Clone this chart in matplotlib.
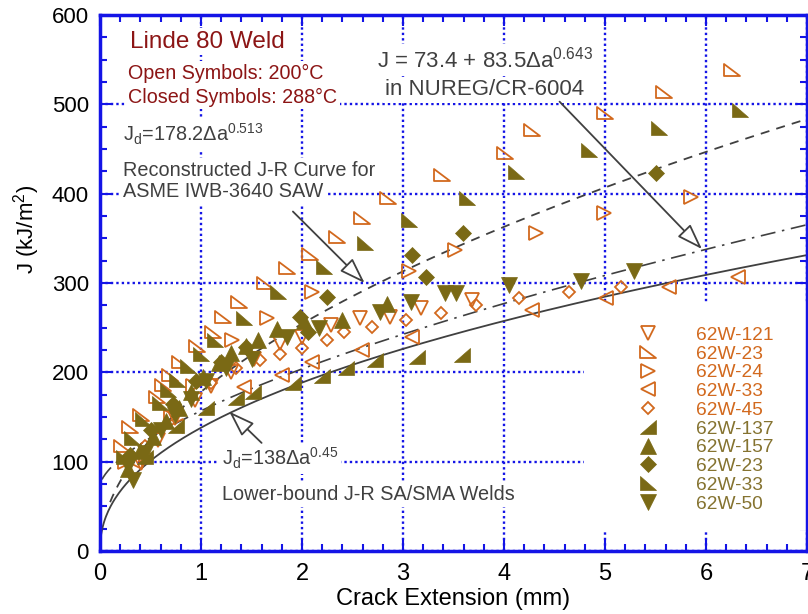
import matplotlib
matplotlib.use('Agg')
from matplotlib import pyplot as plt
from matplotlib.path import Path
from matplotlib.patches import Rectangle
from matplotlib.ticker import MultipleLocator
import numpy as np

plt.rcParams['font.family'] = ['Liberation Sans', 'DejaVu Sans']
plt.rcParams['mathtext.fontset'] = 'custom'
plt.rcParams['mathtext.rm'] = 'Liberation Sans'

# ---- data (crack extension mm, J kJ/m^2) ----
# open symbols, 200 C
o121_x = [0.41, 0.57, 0.74, 0.94, 1.10, 1.30, 1.52, 1.78, 2.00, 2.29, 2.57, 2.87, 3.18, 3.68]
o121_y = [98, 124, 149, 169, 185, 200, 215, 233, 240, 253, 261, 262, 272, 281]
o23_x = [0.22, 0.30, 0.41, 0.56, 0.62, 0.69, 0.79, 0.96, 1.12, 1.22, 1.38, 1.63, 1.85, 2.08,
         2.35, 2.59, 2.85, 3.39, 4.01, 4.28, 5.00, 5.58, 6.26]
o23_y = [118, 139, 152, 172, 186, 197, 212, 230, 245, 262, 279, 300, 317, 333,
         352, 373, 395, 421, 445, 471, 490, 514, 538]
o24_x = [0.25, 0.46, 0.70, 0.92, 1.31, 1.65, 2.10, 3.06, 3.51, 4.32, 4.99, 5.85]
o24_y = [100, 107, 150, 185, 236, 261, 290, 313, 337, 356, 378, 396]
o33_x = [0.35, 0.75, 1.43, 1.80, 2.10, 2.59, 3.09, 4.28, 5.01, 5.63, 6.32]
o33_y = [100, 140, 184, 197, 212, 225, 240, 270, 283, 296, 307]
o45_x = [0.45, 0.75, 1.10, 1.35, 1.58, 1.78, 2.00, 2.25, 2.42, 2.69, 3.03, 3.38, 3.72, 4.15, 4.64, 5.16]
o45_y = [118, 160, 188, 205, 214, 221, 227, 236, 245, 251, 259, 266, 275, 283, 290, 296]
# closed symbols, 288 C
c137_x = [0.45, 0.75, 1.05, 1.35, 1.51, 1.91, 2.20, 2.44, 2.72, 3.14, 3.58]
c137_y = [105, 140, 160, 171, 178, 188, 196, 205, 214, 217, 219]
c157_x = [0.28, 0.40, 0.52, 0.65, 0.78, 0.90, 1.02, 1.18, 1.30, 1.45, 1.56, 1.75, 2.02, 2.40, 2.84]
c157_y = [92, 112, 128, 145, 160, 178, 195, 210, 222, 229, 236, 248, 258, 259, 277]
c23_x = [0.30, 0.50, 0.72, 0.95, 1.20, 1.45, 1.98, 2.06, 2.25, 3.09, 3.23, 3.59, 5.50]
c23_y = [108, 135, 165, 190, 212, 228, 262, 245, 284, 331, 307, 356, 423]
c33_x = [0.24, 0.32, 0.43, 0.59, 0.67, 0.76, 0.87, 1.00, 1.14, 1.43, 1.76, 2.22, 2.62, 3.06,
         3.63, 4.12, 4.84, 5.53, 6.34]
c33_y = [105, 127, 148, 166, 180, 191, 207, 220, 236, 261, 290, 318, 345, 371,
         395, 424, 449, 473, 494]
c50_x = [0.28, 0.33, 0.45, 0.60, 0.74, 0.90, 1.05, 1.25, 1.50, 1.85, 2.17, 2.77, 3.08, 3.42,
         3.52, 4.05, 4.76, 5.29]
c50_y = [95, 79, 110, 135, 152, 170, 190, 205, 215, 240, 250, 268, 279, 289,
         289, 298, 302, 313]

# fitted J-R curves from the annotations
lower_coef = [138, 0.45]           # Jd = 138 da^0.45
saw_coef = [178.2, 0.513]          # Jd = 178.2 da^0.513
nureg_coef = [73.4, 83.5, 0.643]   # J = 73.4 + 83.5 da^0.643

orange = '#D2691E'
olive = '#7A6915'
olive_txt = '#857330'
gray = '#404040'
blue = '#1414E6'

tri_bl = Path([(-1, 0.85), (-1, -0.85), (1, -0.85), (-1, 0.85)],
              [Path.MOVETO, Path.LINETO, Path.LINETO, Path.CLOSEPOLY])
tri_br = Path([(1, 0.85), (1, -0.85), (-1, -0.85), (1, 0.85)],
              [Path.MOVETO, Path.LINETO, Path.LINETO, Path.CLOSEPOLY])

fig = plt.figure(figsize=(8.08, 6.14), dpi=100)
ax = fig.add_axes([100 / 808, 63 / 614, 707 / 808, 536 / 614])

# curves
a = np.linspace(0, 7, 600)
ax.plot(a, lower_coef[0] * a ** lower_coef[1], color=gray, lw=1.3, zorder=2)
a2 = np.linspace(0.1, 7, 600)
ax.plot(a2, saw_coef[0] * a2 ** saw_coef[1], color=gray, lw=1.3, ls=(0, (5, 4)), zorder=2)
a3 = np.linspace(0.02, 7, 600)
ax.plot(a3, nureg_coef[0] + nureg_coef[1] * a3 ** nureg_coef[2], color=gray, lw=1.2,
        ls=(0, (9, 4, 1.5, 4)), zorder=2)

# data
open_series = [('62W-121', o121_x, o121_y, 'v', 10.5),
               ('62W-23', o23_x, o23_y, tri_bl, 11),
               ('62W-24', o24_x, o24_y, '>', 10.5),
               ('62W-33', o33_x, o33_y, '<', 10.5),
               ('62W-45', o45_x, o45_y, 'D', 6.5)]
closed_series = [('62W-137', c137_x, c137_y, tri_br, 12),
                 ('62W-157', c157_x, c157_y, '^', 11.5),
                 ('62W-23', c23_x, c23_y, 'D', 8),
                 ('62W-33', c33_x, c33_y, tri_bl, 12),
                 ('62W-50', c50_x, c50_y, 'v', 11.5)]
for name, xs, ys, m, ms in open_series:
    ax.plot(xs, ys, ls='none', marker=m, ms=ms, mfc='none', mec=orange, mew=1.3,
            label=name, zorder=4)
for name, xs, ys, m, ms in closed_series:
    ax.plot(xs, ys, ls='none', marker=m, ms=ms, mfc=olive, mec=olive, mew=0.5,
            label=name, zorder=4)

leg = ax.legend(loc='center left', bbox_to_anchor=(0.761, 0.2453), frameon=False,
                fontsize=13.8, handlelength=1.0, handletextpad=2.0, labelspacing=0.07,
                borderpad=0, borderaxespad=0)
for i, t in enumerate(leg.get_texts()):
    t.set_color(orange if i < 5 else olive_txt)

# white area behind the legend
ax.add_patch(Rectangle((0.685, 0.039), 0.315, 0.424, transform=ax.transAxes,
                       fc='white', ec='none', zorder=1))

box = dict(facecolor='white', edgecolor='none', pad=2)
red = '#8C1515'
ax.text(0.296, 570, 'Linde 80 Weld', fontsize=17.5, color=red, va='center', bbox=box, zorder=3)
ax.text(0.277, 535, 'Open Symbols: 200°C', fontsize=14.2, color=red, va='center', bbox=box, zorder=3)
ax.text(0.277, 508, 'Closed Symbols: 288°C', fontsize=14.2, color=red, va='center', bbox=box, zorder=3)

ax.text(0.227, 458, r'$\mathregular{J_d}$=178.2Δa$\mathregular{^{0.513}}$', fontsize=14.3,
        color=gray, va='baseline', bbox=box, zorder=3)
ax.text(0.227, 420, 'Reconstructed J-R Curve for', fontsize=14.3, color=gray,
        va='baseline', bbox=box, zorder=3)
ax.text(0.227, 396, 'ASME IWB-3640 SAW', fontsize=14.3, color=gray,
        va='baseline', bbox=box, zorder=3)

ax.text(3.81, 541, r'J = 73.4 + 83.5Δa$\mathregular{^{0.643}}$', fontsize=16, color=gray,
        ha='center', va='baseline', bbox=box, zorder=3)
ax.text(3.81, 510, 'in NUREG/CR-6004', fontsize=16, color=gray,
        ha='center', va='baseline', bbox=box, zorder=3)

ax.text(1.21, 96, r'$\mathregular{J_d}$=138Δa$\mathregular{^{0.45}}$', fontsize=14.3,
        color=gray, va='baseline', bbox=box, zorder=3)
ax.text(1.21, 57, 'Lower-bound J-R SA/SMA Welds', fontsize=14.3, color=gray,
        va='baseline', bbox=box, zorder=3)

arrow = dict(arrowstyle='-|>,head_length=1.6,head_width=0.55', fc='white', ec=gray, lw=1.3,
             shrinkA=0, shrinkB=0)
ax.annotate('', xy=(2.62, 300), xytext=(1.91, 380), arrowprops=arrow, zorder=3)
ax.annotate('', xy=(5.96, 338), xytext=(4.55, 503), arrowprops=arrow, zorder=3)
ax.annotate('', xy=(1.28, 156), xytext=(1.60, 121), arrowprops=arrow, zorder=3)

# axes styling
ax.set_xlim(0, 7)
ax.set_ylim(0, 600)
ax.set_xticks(range(0, 8))
ax.set_yticks(range(0, 601, 100))
ax.xaxis.set_minor_locator(MultipleLocator(0.2))
ax.yaxis.set_minor_locator(MultipleLocator(25))
ax.set_axisbelow(True)
ax.grid(which='major', color=blue, ls=(0, (1, 1.3)), lw=1.7)
ax.tick_params(which='both', direction='in', top=True, right=True, color=blue, width=1.5)
ax.tick_params(which='major', length=8)
ax.tick_params(which='minor', length=5)
ax.tick_params(axis='y', labelsize=16, pad=8)
ax.tick_params(axis='x', labelsize=17, pad=9)
for s in ax.spines.values():
    s.set_color(blue)
    s.set_linewidth(2.5)

ax.set_xlabel('Crack Extension (mm)', fontsize=17, labelpad=2)
ax.set_ylabel(r'J (kJ/m$\mathregular{^2}$)', fontsize=16)
ax.yaxis.set_label_coords(-0.082, 0.6)

fig.savefig('out.png', dpi=100)
